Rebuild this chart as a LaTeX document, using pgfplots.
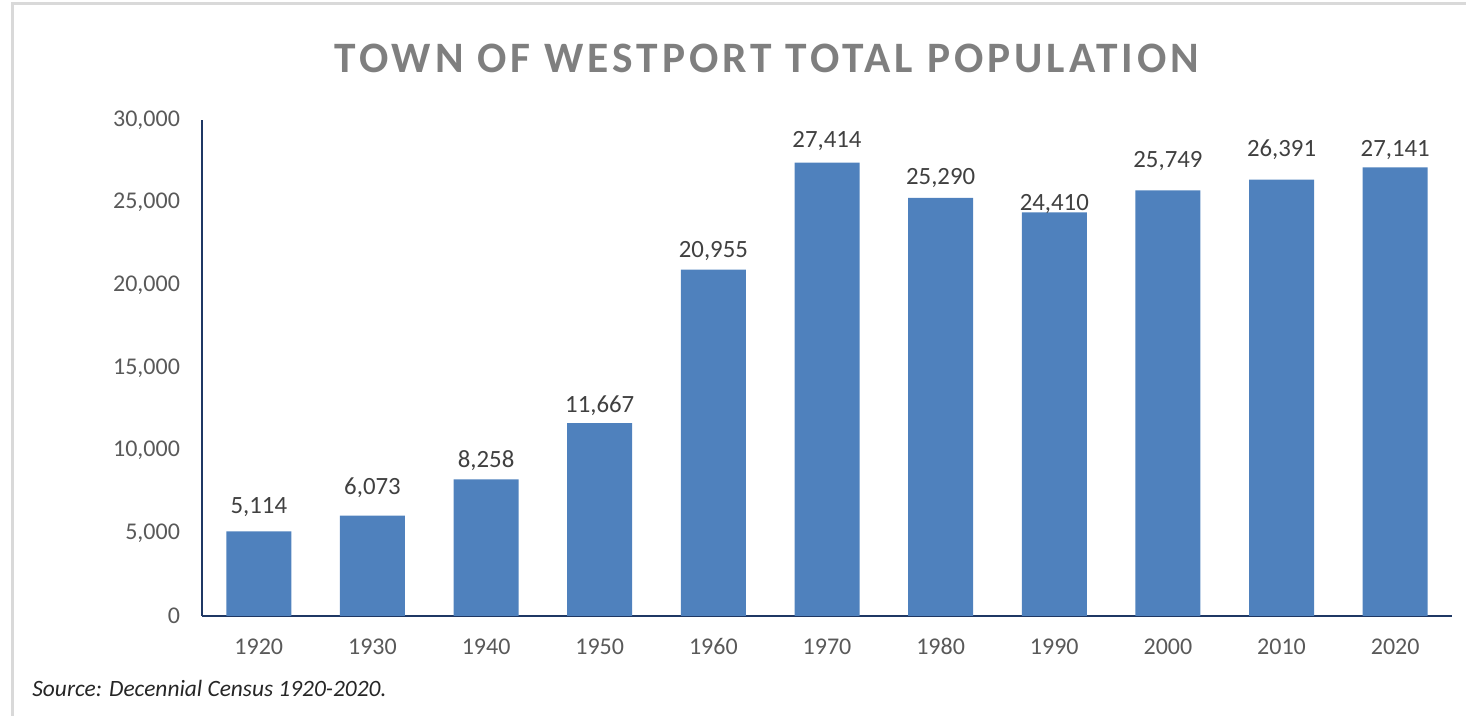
\documentclass[border=0pt]{standalone}
\usepackage{fontspec}
\setmainfont{Carlito}
\newfontfamily\titlefont[LetterSpace=9.2]{Carlito}
\usepackage{pgfplots}
\pgfplotsset{compat=1.18}
\definecolor{barblue}{HTML}{4F81BD}
\definecolor{axisnavy}{HTML}{1F3864}
\definecolor{ticktext}{HTML}{595959}
\definecolor{labeltext}{HTML}{404040}
\definecolor{titlegray}{HTML}{7F7F7F}
\definecolor{framegray}{HTML}{D9D9D9}
\definecolor{sourcetext}{HTML}{262626}
\begin{document}
\begin{tikzpicture}
\useasboundingbox (0,0) rectangle (733pt,358pt);
\draw[framegray, line width=1.5pt] (6pt,-2pt) -- (6pt,356pt) -- (735pt,356pt);
\begin{axis}[
  at={(101pt,50pt)}, anchor=south west,
  scale only axis, width=625pt, height=248pt,
  xmin=-0.5, xmax=10.5, ymin=0, ymax=30000,
  ybar, bar width=32.5pt,
  xtick={0,1,2,3,4,5,6,7,8,9,10},
  xticklabels={1920,1930,1940,1950,1960,1970,1980,1990,2000,2010,2020},
  ytick={0,5000,10000,15000,20000,25000,30000},
  axis x line*=bottom, axis y line*=left,
  axis line style={-, axisnavy, line width=1.2pt},
  tick style={draw=none},
  scaled y ticks=false,
  /pgf/number format/1000 sep={,},
  /pgf/number format/assume math mode=true,
  tick label style={font=\fontsize{12}{14}\selectfont, text=ticktext},
  xticklabel shift=3.5pt,
  yticklabel shift=7.5pt,
  visualization depends on={value \thisrow{off} \as \labeloff},
  nodes near coords,
  nodes near coords style={font=\fontsize{12.4}{14}\selectfont, text=labeltext, anchor=base, yshift=\labeloff pt, inner sep=0pt},
  clip=false,
]
\addplot[draw=none, fill=barblue] table[x=x, y=y] {
x y off
0 5114 8.85
1 6073 10.5
2 8258 5.85
3 11667 5.3
4 20955 5.85
5 27414 7.5
6 25290 6.65
7 24410 0.85
8 25749 11.2
9 26391 11.35
10 27141 5.3
};
\end{axis}
\node[anchor=base, font=\titlefont\bfseries\fontsize{21.7}{26}\selectfont, text=titlegray] at (383.5pt,321.5pt) {TOWN OF WESTPORT TOTAL POPULATION};
\node[anchor=base west, inner sep=0pt, font=\itshape\fontsize{11.7}{14}\selectfont, text=sourcetext] at (16pt,9.5pt) {Source: Decennial Census 1920-2020.};
\end{tikzpicture}
\end{document}
